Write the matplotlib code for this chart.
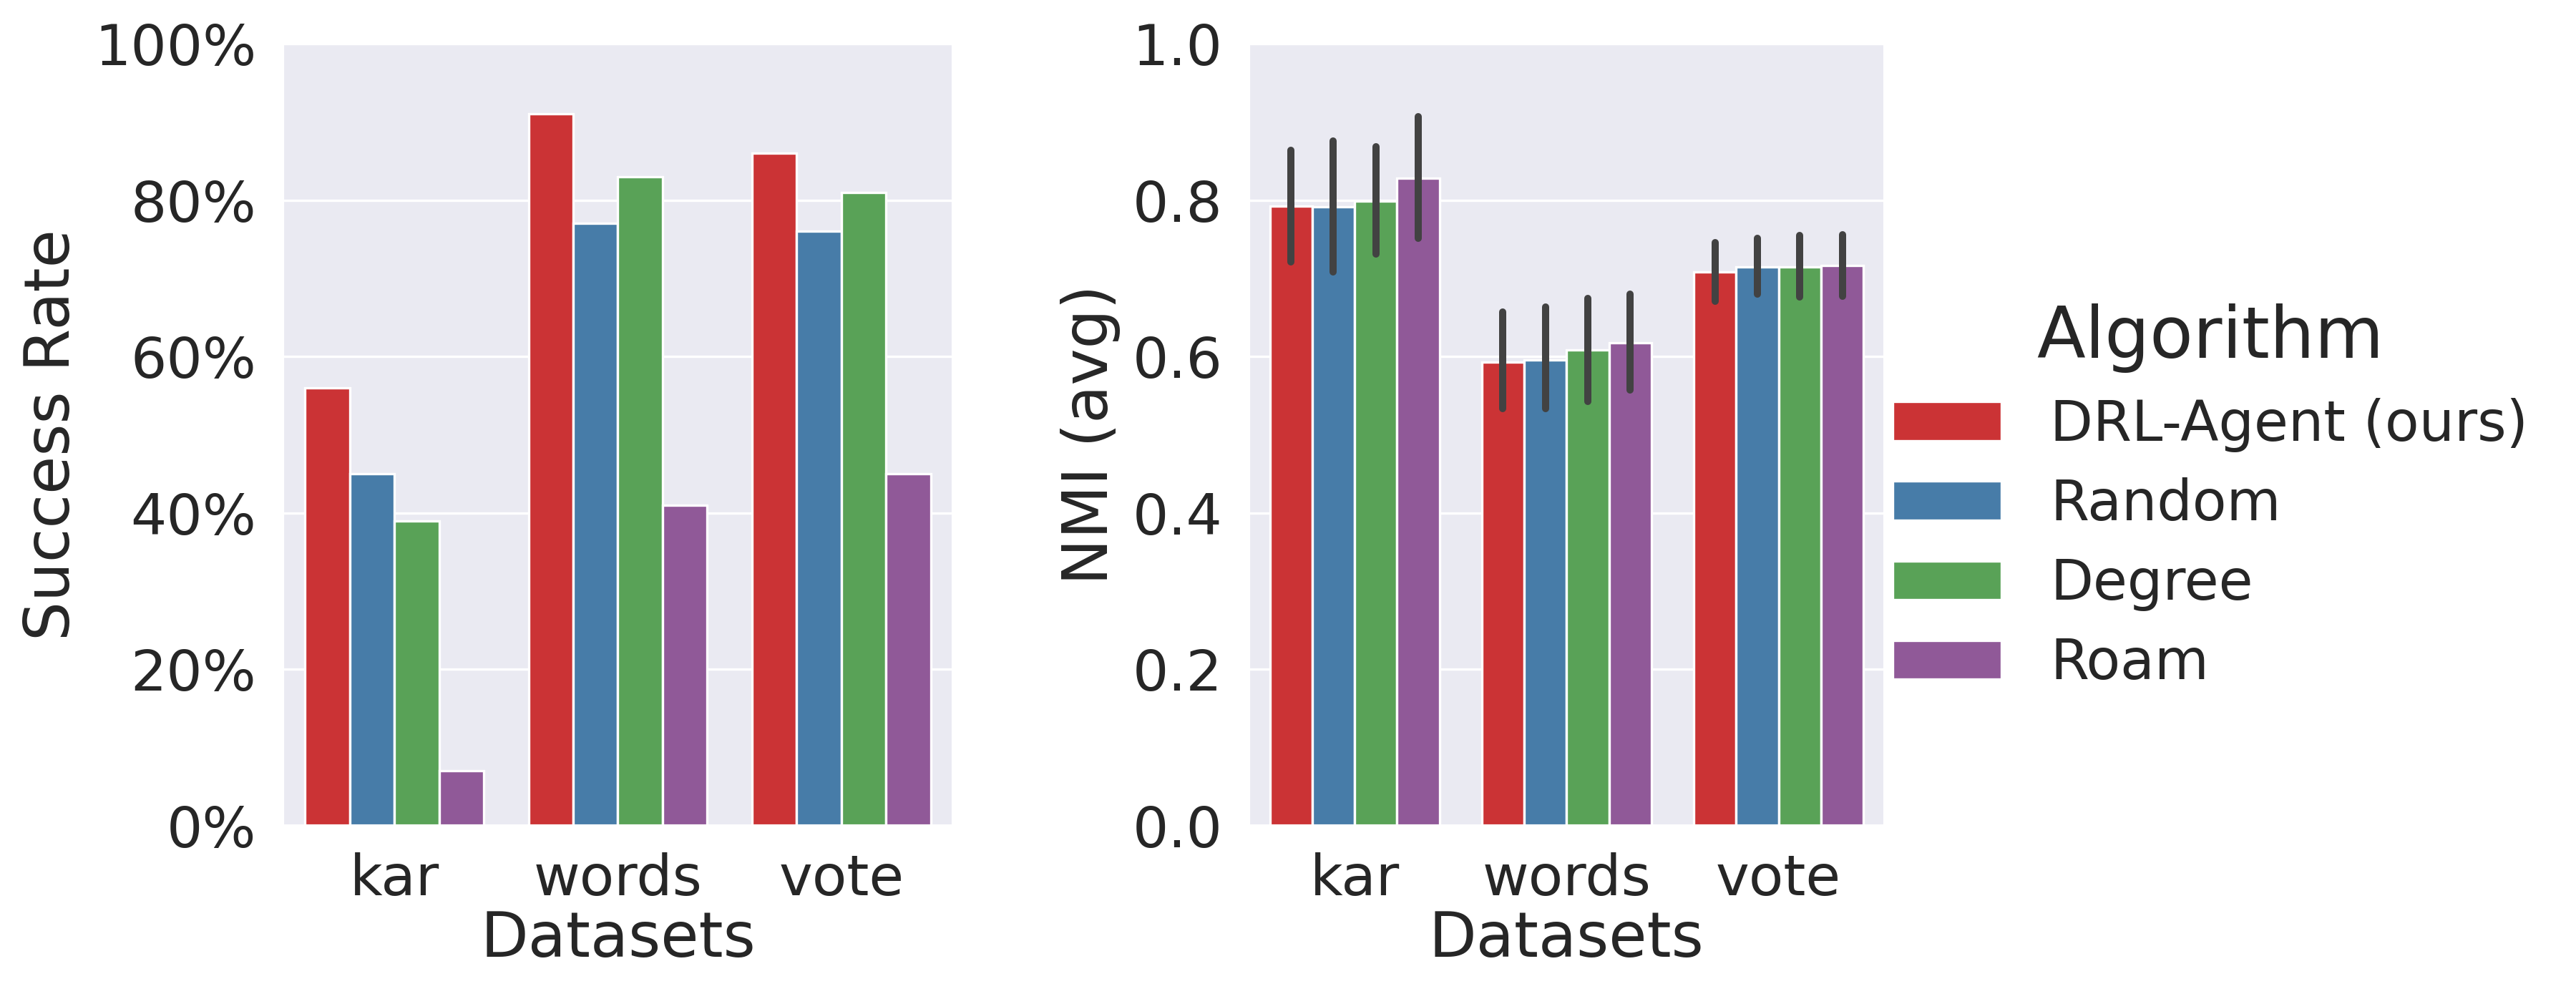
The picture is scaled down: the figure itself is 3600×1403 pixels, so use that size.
import matplotlib
matplotlib.use('Agg')
import matplotlib.pyplot as plt
import matplotlib.ticker as mtick
import numpy as np
import seaborn as sns

datasets = ['kar', 'words', 'vote']
algorithms = ['DRL-Agent (ours)', 'Random', 'Degree', 'Roam']

# success rate per algorithm, one value per dataset
success = {
    'DRL-Agent (ours)': [0.56, 0.91, 0.86],
    'Random': [0.45, 0.77, 0.76],
    'Degree': [0.39, 0.83, 0.81],
    'Roam': [0.07, 0.41, 0.45],
}

# NMI mean and confidence interval (low, high)
nmi = {
    'DRL-Agent (ours)': [0.792, 0.593, 0.708],
    'Random': [0.791, 0.596, 0.715],
    'Degree': [0.799, 0.608, 0.715],
    'Roam': [0.828, 0.618, 0.716],
}
nmi_lo = {
    'DRL-Agent (ours)': [0.721, 0.533, 0.671],
    'Random': [0.708, 0.533, 0.680],
    'Degree': [0.731, 0.543, 0.676],
    'Roam': [0.751, 0.557, 0.677],
}
nmi_hi = {
    'DRL-Agent (ours)': [0.864, 0.657, 0.746],
    'Random': [0.876, 0.663, 0.751],
    'Degree': [0.868, 0.674, 0.755],
    'Roam': [0.907, 0.680, 0.756],
}

sns.set_theme(style='darkgrid', context='paper')
plt.rcParams['font.family'] = ['DejaVu Sans']

colors = [sns.desaturate(c, 0.75) for c in sns.color_palette('Set1', 4)]

fig = plt.figure(figsize=(12, 1403 / 300), dpi=300)
ax1 = fig.add_axes([0.1097, 0.1775, 0.2603, 0.779])
ax2 = fig.add_axes([0.4847, 0.1775, 0.2469, 0.779])

x = np.arange(len(datasets))
w = 0.2

for i, alg in enumerate(algorithms):
    pos = x - 0.4 + w * (i + 0.5)
    ax1.bar(pos, success[alg], width=w, color=colors[i], edgecolor='white',
            linewidth=0.8, label=alg)
    ax2.bar(pos, nmi[alg], width=w, color=colors[i], edgecolor='white',
            linewidth=0.8, label=alg)
    ax2.vlines(pos, nmi_lo[alg], nmi_hi[alg], color='#424242', linewidth=2.4,
               capstyle='round', zorder=3)

for ax in (ax1, ax2):
    ax.set_xlim(-0.5, 2.5)
    ax.set_ylim(0, 1)
    ax.set_xticks(x)
    ax.set_xticklabels(datasets)
    ax.set_yticks(np.linspace(0, 1, 6))
    ax.tick_params(labelsize=19, pad=4)
    ax.set_xlabel('Datasets', fontsize=20.8, labelpad=1)
    ax.grid(True, axis='y', color='white', linewidth=0.8)
    ax.grid(False, axis='x')
    ax.set_axisbelow(True)

ax1.yaxis.set_major_formatter(mtick.PercentFormatter(1.0, decimals=0))
ax2.yaxis.set_major_formatter(mtick.FormatStrFormatter('%.1f'))
ax1.set_ylabel('Success Rate', fontsize=20.8)
ax2.set_ylabel('NMI (avg)', fontsize=20.8)

handles, labels = ax2.get_legend_handles_labels()
leg = fig.legend(handles, labels, title='Algorithm', loc='center left',
                 bbox_to_anchor=(0.7347, 0.505), frameon=False, fontsize=18.7,
                 title_fontsize=23.8, borderpad=0, borderaxespad=0,
                 handlelength=1.95, handleheight=0.7, labelspacing=0.45,
                 handletextpad=0.88)

fig.savefig('out.png', dpi=300)
